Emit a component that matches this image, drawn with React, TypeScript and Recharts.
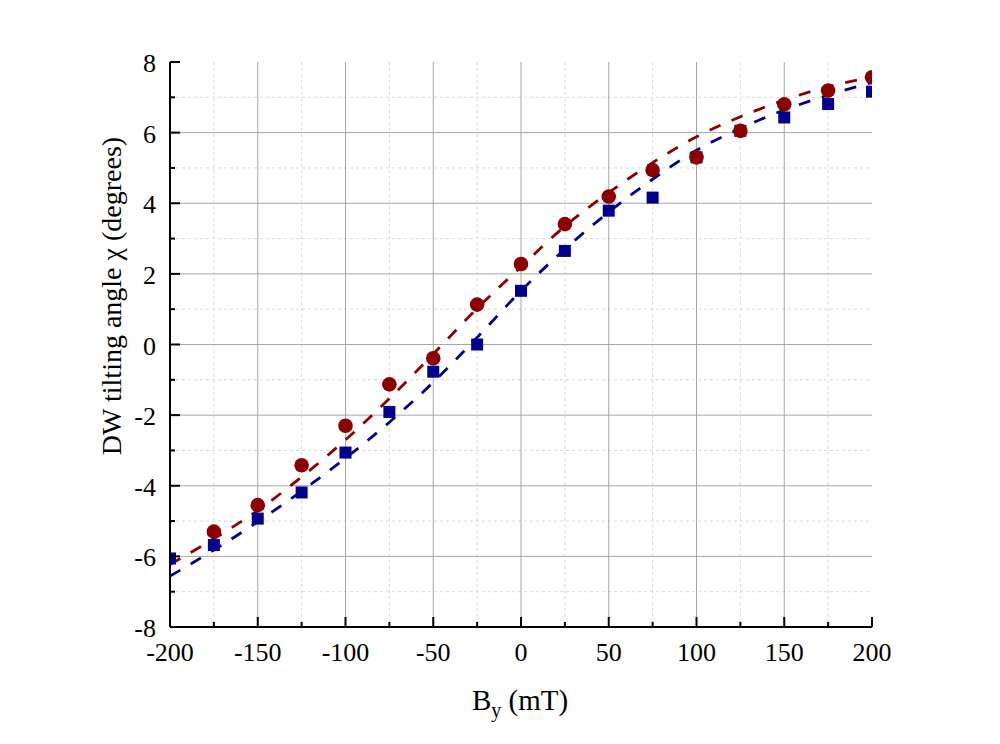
import React from "react";
import { ComposedChart, XAxis, YAxis, Line, Scatter, CartesianGrid, Label } from "recharts";

// measured points, B_y in mT, tilting angle in degrees
const fieldValues = [-200, -175, -150, -125, -100, -75, -50, -25, 0, 25, 50, 75, 100, 125, 150, 175, 200];
const redChi = [null, -5.3, -4.55, -3.42, -2.3, -1.13, -0.39, 1.13, 2.28, 3.41, 4.19, 4.94, 5.3, 6.05, 6.8, 7.19, 7.57];
const blueChi = [-6.06, -5.68, -4.93, -4.19, -3.06, -1.91, -0.77, 0.0, 1.52, 2.65, 3.79, 4.16, 5.3, 6.05, 6.43, 6.81, 7.16];

// fitted curves (dashed)
const fitField = [-200, -175, -150, -125, -100, -75, -50, -25, 0, 25, 50, 75, 100, 125, 150, 175, 200];
const redFit = [-6.23, -5.5, -4.7, -3.75, -2.7, -1.53, -0.27, 1.02, 2.2, 3.35, 4.3, 5.15, 5.88, 6.45, 6.92, 7.3, 7.57];
const blueFit = [-6.56, -5.82, -5.02, -4.15, -3.22, -2.2, -1.07, 0.2, 1.52, 2.7, 3.75, 4.68, 5.5, 6.12, 6.64, 7.06, 7.42];

const xTicks = [-200, -175, -150, -125, -100, -75, -50, -25, 0, 25, 50, 75, 100, 125, 150, 175, 200];
const xMajor = [-200, -150, -100, -50, 0, 50, 100, 150, 200];
const xGridMajor = [-150, -100, -50, 0, 50, 100, 150];
const xGridMinor = [-175, -125, -75, -25, 25, 75, 125, 175];

const yTicks = [-8, -7, -6, -5, -4, -3, -2, -1, 0, 1, 2, 3, 4, 5, 6, 7, 8];
const yMajor = [-8, -6, -4, -2, 0, 2, 4, 6, 8];
const yGridMajor = [-6, -4, -2, 0, 2, 4, 6];
const yGridMinor = [-7, -5, -3, -1, 1, 3, 5, 7];

const RED = "#8b0000";
const BLUE = "#00008b";
const FONT = "'Liberation Serif', 'Times New Roman', serif";

const W = 1000;
const H = 744;
const MARGIN = { top: 62, right: 128, bottom: 57, left: 100 };
const Y_AXIS_W = 70;
const X_AXIS_H = 60;
const PLOT = {
  x: MARGIN.left + Y_AXIS_W,
  y: MARGIN.top,
  w: W - MARGIN.left - Y_AXIS_W - MARGIN.right,
  h: H - MARGIN.top - MARGIN.bottom - X_AXIS_H,
};

const toRows = (xs: number[], ys: (number | null)[]) =>
  xs.map((x, i) => ({ x, y: ys[i] })).filter((r) => r.y !== null);

const redRows = toRows(fieldValues, redChi);
const blueRows = toRows(fieldValues, blueChi);
const redFitRows = toRows(fitField, redFit);
const blueFitRows = toRows(fitField, blueFit);

const BottomTick = (props: any) => {
  const { x, y, payload } = props;
  const major = xMajor.includes(payload.value);
  return (
    <g>
      <line x1={x} x2={x} y1={y} y2={y - (major ? 10 : 5)} stroke="#000" strokeWidth={2} />
      {major && (
        <text x={x} y={y + 34} textAnchor="middle" fontSize={26} fontFamily={FONT} fill="#000">
          {payload.value}
        </text>
      )}
    </g>
  );
};

const TopTick = (props: any) => {
  const { x, y, payload } = props;
  const major = xMajor.includes(payload.value);
  return <line x1={x} x2={x} y1={y} y2={y + (major ? 10 : 5)} stroke="#000" strokeWidth={2} />;
};

const LeftTick = (props: any) => {
  const { x, y, payload } = props;
  const major = yMajor.includes(payload.value);
  return (
    <g>
      <line x1={x} x2={x + (major ? 10 : 5)} y1={y} y2={y} stroke="#000" strokeWidth={2} />
      {major && (
        <text x={x - 14} y={y + 10} textAnchor="end" fontSize={26} fontFamily={FONT} fill="#000">
          {payload.value}
        </text>
      )}
    </g>
  );
};

const RightTick = (props: any) => {
  const { x, y, payload } = props;
  const major = yMajor.includes(payload.value);
  return <line x1={x} x2={x - (major ? 10 : 5)} y1={y} y2={y} stroke="#000" strokeWidth={2} />;
};

const XTitle = () => (
  <text x={520} y={710} textAnchor="middle" fontSize={29} fontFamily={FONT} fill="#000">
    <tspan>B</tspan>
    <tspan dy={7} fontSize={20}>y</tspan>
    <tspan dy={-7}> (mT)</tspan>
  </text>
);

const YTitle = () => (
  <g>
    <defs>
      <clipPath id="plotArea">
        <rect x={PLOT.x} y={PLOT.y} width={PLOT.w} height={PLOT.h} />
      </clipPath>
    </defs>
    <text
      transform="translate(111,296) rotate(-90)"
      textAnchor="middle"
      dominantBaseline="central"
      fontSize={28}
      fontFamily={FONT}
      fill="#000"
    >
      DW tilting angle χ (degrees)
    </text>
  </g>
);

const circleShape = (props: any) => (
  <circle cx={props.cx} cy={props.cy} r={7.3} fill={RED} clipPath="url(#plotArea)" />
);
const squareShape = (props: any) => (
  <rect x={props.cx - 6} y={props.cy - 6} width={12} height={12} fill={BLUE} clipPath="url(#plotArea)" />
);

const axisLine = { stroke: "#000", strokeWidth: 2 };

export default function App() {
  return (
    <div style={{ position: "absolute", left: 0, top: 0, width: W, height: H, background: "#fff" }}>
      <ComposedChart width={W} height={H} margin={MARGIN}>
        <CartesianGrid
          horizontalValues={yGridMinor}
          verticalValues={xGridMinor}
          stroke="#d9d9d9"
          strokeDasharray="3 3"
        />
        <CartesianGrid horizontalValues={yGridMajor} verticalValues={xGridMajor} stroke="#a6a6a6" />
        <XAxis
          dataKey="x"
          type="number"
          domain={[-200, 200]}
          ticks={xTicks}
          interval={0}
          allowDataOverflow
          height={X_AXIS_H}
          tickSize={0}
          tickMargin={0}
          tickLine={false}
          axisLine={axisLine}
          tick={BottomTick}
        >
          <Label content={XTitle} />
        </XAxis>
        <XAxis
          xAxisId="top"
          orientation="top"
          type="number"
          domain={[-200, 200]}
          ticks={xTicks}
          interval={0}
          height={0}
          tickSize={0}
          tickMargin={0}
          tickLine={false}
          axisLine={axisLine}
          tick={TopTick}
        />
        <YAxis
          dataKey="y"
          type="number"
          domain={[-8, 8]}
          ticks={yTicks}
          interval={0}
          allowDataOverflow
          width={Y_AXIS_W}
          tickSize={0}
          tickMargin={0}
          tickLine={false}
          axisLine={axisLine}
          tick={LeftTick}
        >
          <Label content={YTitle} />
        </YAxis>
        <YAxis
          yAxisId="right"
          orientation="right"
          type="number"
          domain={[-8, 8]}
          ticks={yTicks}
          interval={0}
          width={0}
          tickSize={0}
          tickMargin={0}
          tickLine={false}
          axisLine={axisLine}
          tick={RightTick}
        />
        <Scatter data={blueRows} dataKey="y" shape={squareShape} isAnimationActive={false} />
        <Scatter data={redRows} dataKey="y" shape={circleShape} isAnimationActive={false} />
        <Line
          data={redFitRows}
          dataKey="y"
          type="monotone"
          stroke={RED}
          strokeWidth={2.8}
          strokeDasharray="12 12"
          dot={false}
          activeDot={false}
          isAnimationActive={false}
        />
        <Line
          data={blueFitRows}
          dataKey="y"
          type="monotone"
          stroke={BLUE}
          strokeWidth={2.8}
          strokeDasharray="12 12"
          dot={false}
          activeDot={false}
          isAnimationActive={false}
        />
      </ComposedChart>
    </div>
  );
}
